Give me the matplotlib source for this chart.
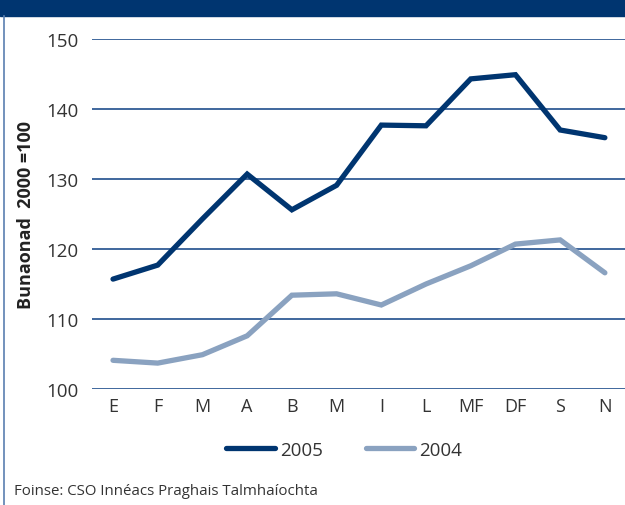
import numpy as np
import matplotlib
matplotlib.use("Agg")
import matplotlib.pyplot as plt
from matplotlib.patches import Rectangle
from matplotlib.lines import Line2D

plt.rcParams['font.family'] = ['Open Sans', 'DejaVu Sans']

# data
months = ['E', 'F', 'M', 'A', 'B', 'M', 'I', 'L', 'MF', 'DF', 'S', 'N']
idx_2005 = [115.7, 117.7, 124.3, 130.7, 125.6, 129.1, 137.7, 137.6, 144.3, 144.9, 137.0, 135.9]
idx_2004 = [104.1, 103.7, 104.9, 107.6, 113.4, 113.6, 112.0, 115.0, 117.6, 120.7, 121.3, 116.6]
yticks = [100, 110, 120, 130, 140, 150]

dark = '#003570'
light = '#8aa2c0'
grid = '#1f4e8c'

fig = plt.figure(figsize=(6.25, 5.06), dpi=100)

# header bar and left border
fig.patches.append(Rectangle((0, 1 - 17/506), 1, 17/506, transform=fig.transFigure,
                             color=dark, zorder=0))
fig.add_artist(Line2D([4/625, 4/625], [0, 1 - 17/506], transform=fig.transFigure,
                      color='#5a7fb0', lw=1.2))

ax = fig.add_axes([92/625, 116/506, 533/625, 350/506])
x = np.arange(len(months))
ax.plot(x, idx_2005, color=dark, lw=3.8, solid_capstyle='round', solid_joinstyle='miter',
        label='2005', zorder=3)
ax.plot(x, idx_2004, color=light, lw=3.8, solid_capstyle='round', solid_joinstyle='miter',
        label='2004', zorder=3)

ax.set_ylim(100, 150)
ax.set_xlim(-0.47, 11.45)
ax.set_yticks(yticks)
ax.set_xticks(x)
ax.set_xticklabels(months)
for y in yticks:
    ax.axhline(y, color=grid, lw=1.2, zorder=1)
for s in ax.spines.values():
    s.set_visible(False)
ax.tick_params(axis='y', length=0, labelsize=13.5, colors='#333333', pad=10)
ax.tick_params(axis='x', length=0, labelsize=13, colors='#333333', pad=6)

ax.set_ylabel('Bunaonad  2000 =100', fontsize=13, fontweight='bold', color='#222222',
              labelpad=8)

ax.legend(loc='upper center', bbox_to_anchor=(0.473, -0.1), ncol=2, frameon=False,
          fontsize=13.5, handlelength=2.6, columnspacing=2.3, handletextpad=0.25,
          labelcolor='#333333')

fig.text(14/625, 1 - 492/506, 'Foinse: CSO Innéacs Praghais Talmhaíochta', fontsize=10.8,
         color='#333333', va='center')

fig.savefig('out.png', dpi=100)
